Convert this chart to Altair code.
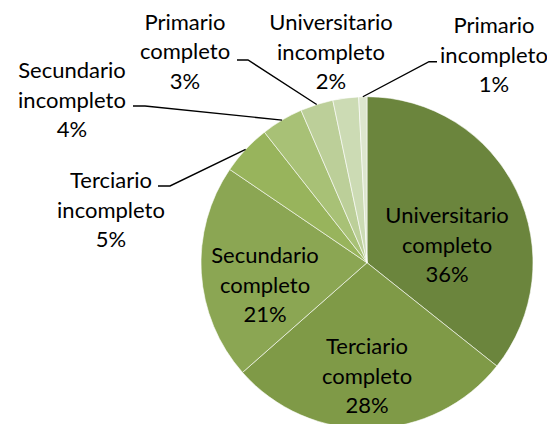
import math
import altair as alt
import pandas as pd

# ---- data ----
categories = ["Universitario completo", "Terciario completo", "Secundario completo",
              "Terciario incompleto", "Secundario incompleto", "Primario completo",
              "Universitario incompleto", "Primario incompleto"]
shares = [35.7, 27.8, 21.0, 4.9, 4.1, 3.2, 2.5, 0.8]
pct_labels = ["36%", "28%", "21%", "5%", "4%", "3%", "2%", "1%"]
colors = ["#6B853D", "#7F9A47", "#8BA653", "#98B45C", "#A8C176", "#BCCF99", "#CCDBB4", "#DDE6CE"]

# ---- layout (pixels relative to pie centre, y up) ----
W, H = 539, 416
CX, CY = 359, 254.7
R = 166
LH = 29.5
label_pos = {  # centre of the middle line of each label
    "Universitario completo": (80, 17),
    "Terciario completo": (0, -114),
    "Secundario completo": (-102, -23),
    "Terciario incompleto": (-256, 52),
    "Secundario incompleto": (-295, 162),
    "Primario completo": (-182, 210.5),
    "Universitario incompleto": (-36, 210),
    "Primario incompleto": (127, 207),
}
# leader lines: elbow and end point of the horizontal stub
leaders = {
    "Terciario incompleto": [(-197, 76.7), (-209, 76.7)],
    "Secundario incompleto": [(-222, 156.7), (-234, 156.7)],
    "Primario completo": [(-119, 202.7), (-130, 202.7)],
    "Primario incompleto": [(62, 201), (70, 201)],
}

xs = alt.Scale(domain=[-CX, W - CX], nice=False, zero=False)
ys = alt.Scale(domain=[CY - H, CY], nice=False, zero=False)

pie_df = pd.DataFrame({"idx": list(range(len(categories))), "category": categories, "share": shares})

arc = alt.Chart(pie_df).mark_arc(radius=R, stroke="#FFFFFF", strokeWidth=0.6).encode(
    theta=alt.Theta("share:Q", stack=True),
    color=alt.Color("category:N", scale=alt.Scale(domain=categories, range=colors), legend=None),
    order=alt.Order("idx:Q"),
    x=alt.X(datum=0, type="quantitative", scale=xs, axis=None),
    y=alt.Y(datum=0, type="quantitative", scale=ys, axis=None),
)

# labels (Vega anchors multi-line text at its first line)
lab_rows = []
for cat, pct in zip(categories, pct_labels):
    lx, ly = label_pos[cat]
    lab_rows.append({"lx": lx, "ly": ly + LH, "text": cat.replace(" ", "\n") + "\n" + pct})
lab_df = pd.DataFrame(lab_rows)
labels = alt.Chart(lab_df).mark_text(
    font="Lato", fontSize=22, lineBreak="\n", lineHeight=LH,
    align="center", baseline="middle", color="#000000"
).encode(
    x=alt.X("lx:Q", scale=xs, axis=None),
    y=alt.Y("ly:Q", scale=ys, axis=None),
    text="text:N",
)

# leader lines start on the pie edge at each slice's mid-angle
total = sum(shares)
cum = 0
mid = {}
for cat, s in zip(categories, shares):
    mid[cat] = (cum + s / 2) / total * 2 * math.pi
    cum += s
line_rows = []
for cat, pts in leaders.items():
    a = mid[cat]
    seq = [(R * math.sin(a), R * math.cos(a))] + pts
    for k, (px, py) in enumerate(seq):
        line_rows.append({"seg": cat, "ord": k, "px": px, "py": py})
line_df = pd.DataFrame(line_rows)
lines = alt.Chart(line_df).mark_line(color="#000000", strokeWidth=1.4).encode(
    x=alt.X("px:Q", scale=xs, axis=None),
    y=alt.Y("py:Q", scale=ys, axis=None),
    detail="seg:N",
    order="ord:Q",
)

chart = alt.layer(arc, lines, labels).properties(
    width=W, height=H, padding=0, autosize=alt.AutoSizeParams(type="none")
).configure_view(stroke=None)

chart.save("out.html", embed_options={"renderer": "svg", "actions": False})
